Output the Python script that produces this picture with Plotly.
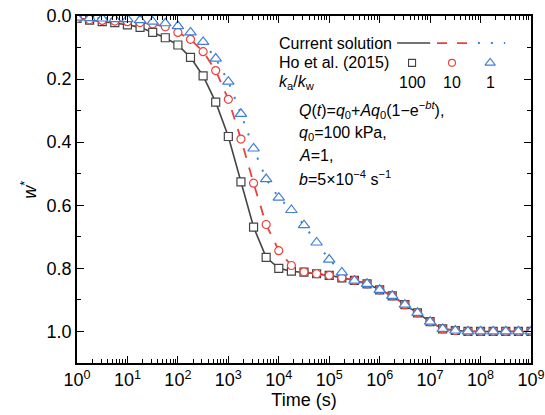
import plotly.graph_objects as go

# sampling times as log10 exponents (every quarter decade)
log_t = [0, 0.25, 0.5, 0.75, 1, 1.25, 1.5, 1.75, 2, 2.25, 2.5, 2.75, 3, 3.25, 3.5, 3.75,
         4, 4.25, 4.5, 4.75, 5, 5.25, 5.5, 5.75, 6, 6.25, 6.5, 6.75, 7, 7.25, 7.5, 7.75,
         8, 8.25, 8.5, 8.75, 9]
time_s = [10 ** v for v in log_t]

# w* for ka/kw = 100, 10, 1
w_100 = [0.008, 0.013, 0.018, 0.021, 0.028, 0.036, 0.052, 0.069, 0.092, 0.131, 0.190, 0.273,
         0.382, 0.526, 0.669, 0.765, 0.800, 0.809, 0.812, 0.817, 0.822, 0.830, 0.838, 0.849,
         0.868, 0.887, 0.915, 0.941, 0.969, 0.992, 0.997, 1.0, 1.0, 1.0, 1.0, 1.0, 1.0]
w_10 = [0.008, 0.012, 0.014, 0.016, 0.018, 0.021, 0.025, 0.034, 0.052, 0.074, 0.113, 0.173,
        0.264, 0.390, 0.530, 0.661, 0.744, 0.791, 0.811, 0.817, 0.822, 0.830, 0.838, 0.849,
        0.868, 0.887, 0.915, 0.941, 0.969, 0.992, 0.997, 1.0, 1.0, 1.0, 1.0, 1.0, 1.0]
w_1 = [0.005, 0.007, 0.008, 0.010, 0.010, 0.013, 0.018, 0.023, 0.032, 0.052, 0.082, 0.135,
       0.208, 0.310, 0.420, 0.517, 0.576, 0.615, 0.663, 0.718, 0.772, 0.813, 0.839, 0.849,
       0.868, 0.887, 0.915, 0.941, 0.969, 0.992, 0.997, 1.0, 1.0, 1.0, 1.0, 1.0, 1.0]

series = [
    ("100", w_100, "#444444", "square", "solid", 1.6),
    ("10", w_10, "#e8413c", "circle", "10px,10px", 1.8),
    ("1", w_1, "#3f7fd8", "triangle-up", "2px,11px", 2.0),
]

x_ticks = [10 ** i for i in range(10)]
x_ticktext = [f"10<sup>{i}</sup>" for i in range(10)]

FONT = "Liberation Sans, Arial, sans-serif"

fig = go.Figure()

# current solution lines
for name, w, col, sym, dash, lw in series:
    fig.add_trace(go.Scatter(x=time_s, y=w, mode="lines",
                             line=dict(color=col, width=lw, dash=dash),
                             showlegend=False, hoverinfo="skip"))
# Ho et al. markers
for name, w, col, sym, dash, lw in series:
    fig.add_trace(go.Scatter(x=time_s, y=w, mode="markers",
                             marker=dict(symbol=sym, size=8 if sym != "triangle-up" else 10,
                                         color="white", line=dict(color=col, width=1.2)),
                             showlegend=False, cliponaxis=True, hoverinfo="skip"))

# legend samples on overlay axes (0..1 spanning plot area)
leg_line_x = [(0.705, 0.778), (0.793, 0.861), (0.883, 0.943)]
leg_mark_x = [0.738, 0.826, 0.910]
row1, row2, row3 = 0.922, 0.865, 0.807
for (name, w, col, sym, dash, lw), (x0, x1), xm in zip(series, leg_line_x, leg_mark_x):
    fig.add_trace(go.Scatter(x=[x0, x1], y=[row1, row1], mode="lines",
                             line=dict(color=col, width=lw, dash=dash),
                             xaxis="x2", yaxis="y2", showlegend=False, hoverinfo="skip"))
    fig.add_trace(go.Scatter(x=[xm], y=[row2], mode="markers",
                             marker=dict(symbol=sym, size=7 if sym != "triangle-up" else 9,
                                         color="white", line=dict(color=col, width=1.1)),
                             xaxis="x2", yaxis="y2", showlegend=False, hoverinfo="skip"))

ann = []
def text(x, y, s, anchor="left", size=16):
    ann.append(dict(x=x, y=y, xref="paper", yref="paper", text=s, showarrow=False,
                    xanchor=anchor, yanchor="middle", font=dict(size=size, color="black", family=FONT)))

text(0.4405, row1, "Current solution")
text(0.4405, row2, "Ho et al. (2015)")
text(0.4405, row3, "<i>k</i><sub>a</sub>/<i>k</i><sub>w</sub>")
for (name, *_), xm in zip(series, leg_mark_x):
    text(xm, row3, name, anchor="center")
text(0.4846, 0.729, "<i>Q</i>(<i>t</i>)=<i>q</i><sub>0</sub>+<i>Aq</i><sub>0</sub>(1−e<sup>−<i>bt</i></sup>),")
text(0.4846, 0.660, "<i>q</i><sub>0</sub>=100 kPa,")
text(0.4846, 0.597, "<i>A</i>=1,")
text(0.4846, 0.533, "<i>b</i>=5×10<sup>−4</sup> s<sup>−1</sup>")

# y-axis title
ann.append(dict(x=-0.105, y=0.5, xref="paper", yref="paper", text="<i>w</i><sup>*</sup>",
                showarrow=False, textangle=-90, xanchor="center", yanchor="middle",
                font=dict(size=18, color="black", family=FONT)))

fig.update_layout(
    width=545, height=415,
    margin=dict(l=77, r=14, t=16, b=52),
    paper_bgcolor="white", plot_bgcolor="white",
    font=dict(family=FONT, size=18, color="black"),
    annotations=ann,
    xaxis=dict(type="log", range=[0, 9], tickvals=x_ticks, ticktext=x_ticktext, automargin=False,
               ticks="inside", ticklen=7, tickwidth=1.3, tickcolor="black",
               showline=True, linecolor="black", linewidth=1.6, mirror="allticks",
               showgrid=False, zeroline=False,
               minor=dict(ticks="inside", ticklen=4, tickwidth=1.1, dtick="D1", tickcolor="black", showgrid=False),
               title=dict(text="Time (s)", font=dict(size=18), standoff=4),
               tickfont=dict(size=18)),
    yaxis=dict(range=[1.1, 0], tickvals=[0, 0.2, 0.4, 0.6, 0.8, 1.0], automargin=False,
               ticktext=["0.0", "0.2", "0.4", "0.6", "0.8", "1.0"],
               ticks="inside", ticklen=7, tickwidth=1.3, tickcolor="black",
               showline=True, linecolor="black", linewidth=1.6, mirror="allticks",
               showgrid=False, zeroline=False,
               minor=dict(ticks="inside", ticklen=4, tickwidth=1.1, tickvals=[0.1, 0.3, 0.5, 0.7, 0.9],
                          tickcolor="black", showgrid=False),
               tickfont=dict(size=18)),
    xaxis2=dict(range=[0, 1], overlaying="x", visible=False, anchor="y2"),
    yaxis2=dict(range=[0, 1], overlaying="y", visible=False, anchor="x2"),
)

fig.write_html("out.html")
